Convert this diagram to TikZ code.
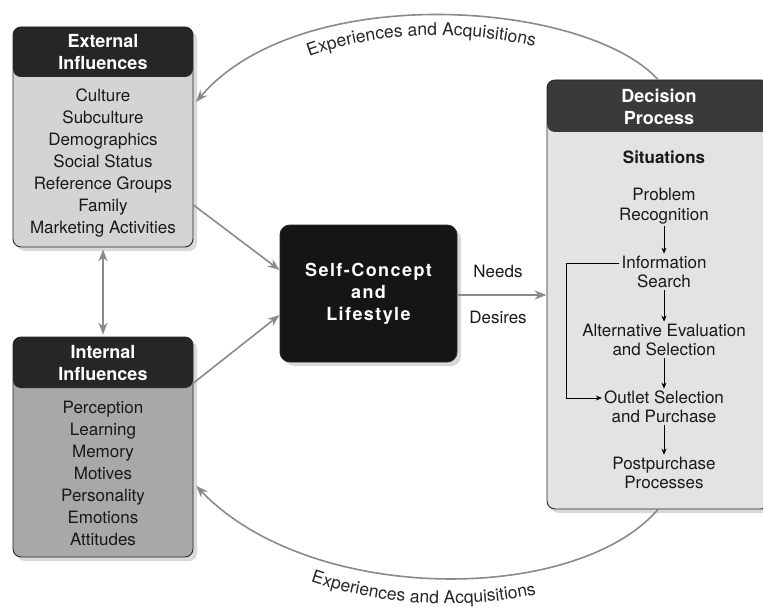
\documentclass[tikz,border=0pt]{standalone}
\usepackage{fontspec}
\setmainfont{TeX Gyre Heros}
\newfontfamily\selffont[LetterSpace=8]{TeX Gyre Heros}
\usetikzlibrary{arrows.meta,shadows,decorations.text}
\definecolor{extfill}{HTML}{D4D4D4}
\definecolor{intfill}{HTML}{A8A8A8}
\definecolor{decfill}{HTML}{E3E3E3}
\definecolor{hdr}{HTML}{262626}
\definecolor{dechdr}{HTML}{3A3A3A}
\definecolor{selfblack}{HTML}{151515}
\definecolor{arrowgray}{HTML}{8A8A8A}
\newcommand\arcfont{\fontsize{17.5}{19}\selectfont}
\begin{document}
\begin{tikzpicture}[x=1pt,y=-1pt,
  panel/.style={rectangle, rounded corners=8pt, draw=black!85, line width=0.9pt,
    drop shadow={opacity=0.3, shadow xshift=4pt, shadow yshift=-4pt}},
  hdrtext/.style={text=white, font=\bfseries\fontsize{18}{21.5}\selectfont, align=center, inner sep=1pt},
  bodytext/.style={text=black!90, font=\fontsize{17}{22}\selectfont, align=center, inner sep=1pt},
  steptext/.style={text=black!90, font=\fontsize{17}{19.5}\selectfont, align=center, inner sep=2pt},
  garrow/.style={draw=arrowgray, line width=1.6pt, -{Stealth[length=12pt,width=9pt,inset=4pt]}},
  sarrow/.style={draw=black, line width=0.8pt, -{Stealth[length=6pt,width=5pt]}},
  arctext/.style={decoration={text along path, text={|\arcfont\color{black!85}|Experiences and Acquisitions}, text align=center}, decorate}
]
\useasboundingbox (0,0) rectangle (763,607);

% boxes
\node[panel, fill=extfill, minimum width=180pt, minimum height=220pt,
  path picture={\fill[hdr] (path picture bounding box.north west) rectangle ([yshift=-50pt]path picture bounding box.north east);}]
  (ext) at (103,137) {};
\node[panel, fill=intfill, minimum width=180pt, minimum height=220pt,
  path picture={\fill[hdr] (path picture bounding box.north west) rectangle ([yshift=-51pt]path picture bounding box.north east);}]
  (int) at (103,447) {};
\node[panel, fill=decfill, minimum width=222pt, minimum height=429pt,
  path picture={\fill[dechdr] (path picture bounding box.north west) rectangle ([yshift=-52pt]path picture bounding box.north east);}]
  (dec) at (658,294.5) {};
\node[panel, rounded corners=10pt, fill=selfblack, minimum width=177pt, minimum height=137pt,
  text=white, font=\selffont\bfseries\fontsize{18}{22}\selectfont, align=center]
  (self) at (368.5,293.5) {Self-Concept\\and\\Lifestyle};

% texts
\node[hdrtext] (exth) at (103,52) {External\\Influences};
\node[bodytext] (extb) at (103,163) {Culture\\Subculture\\Demographics\\Social Status\\Reference Groups\\Family\\Marketing Activities};
\node[hdrtext] (inth) at (103,363) {Internal\\Influences};
\node[bodytext] (intb) at (103,473) {Perception\\Learning\\Memory\\Motives\\Personality\\Emotions\\Attitudes};
\node[hdrtext] (dech) at (659,107) {Decision\\Process};
\node[steptext, font=\bfseries\fontsize{17}{19.5}\selectfont] (sit) at (664,157) {Situations};
\node[steptext] (pr) at (664,206) {Problem\\Recognition};
\node[steptext] (is) at (664,272) {Information\\Search};
\node[steptext] (ae) at (664,340) {Alternative Evaluation\\and Selection};
\node[steptext] (os) at (664,407) {Outlet Selection\\and Purchase};
\node[steptext] (pp) at (664,473) {Postpurchase\\Processes};
\node[bodytext] (needs) at (498,271) {Needs};
\node[bodytext] (desires) at (498,317) {Desires};

% decision steps
\draw[sarrow] (pr) -- (is);
\draw[sarrow] (is) -- (ae);
\draw[sarrow] (ae) -- (os);
\draw[sarrow] (os) -- (pp);
\coordinate (b1) at (566,263);
\coordinate (b2) at (566,398);
\draw[sarrow] (is.west |- b1) -- (b1) -- (b2) -- (os.west |- b2);

% gray connectors
\coordinate (a1) at (0,205);
\coordinate (a2) at (0,270);
\coordinate (a3) at (0,383);
\coordinate (a4) at (0,315);
\coordinate (ny) at (0,295);
\coordinate (ta) at (0,105);
\coordinate (ba) at (0,483);
\draw[garrow] (ext.east |- a1) -- (self.west |- a2);
\draw[garrow] (int.east |- a3) -- (self.west |- a4);
\draw[garrow] (self.east |- ny) -- (dec.west |- ny);
\draw[garrow, {Stealth[length=12pt,width=9pt,inset=4pt]}-{Stealth[length=12pt,width=9pt,inset=4pt]}, shorten <=2pt, shorten >=2pt] (ext) -- (int);

% arcs
\draw[garrow, shorten >=4pt] (dec.north) .. controls (585,0) and (300,-20) .. (ext.east |- ta);
\draw[garrow, shorten >=4pt] (dec.south) .. controls (575,605) and (310,605) .. (int.east |- ba);
\path[arctext] (212,128) .. controls (292,4) and (562,14) .. (642,102);
\path[arctext] (201,512) .. controls (301,630) and (571,630) .. (651,535);
\end{tikzpicture}
\end{document}
